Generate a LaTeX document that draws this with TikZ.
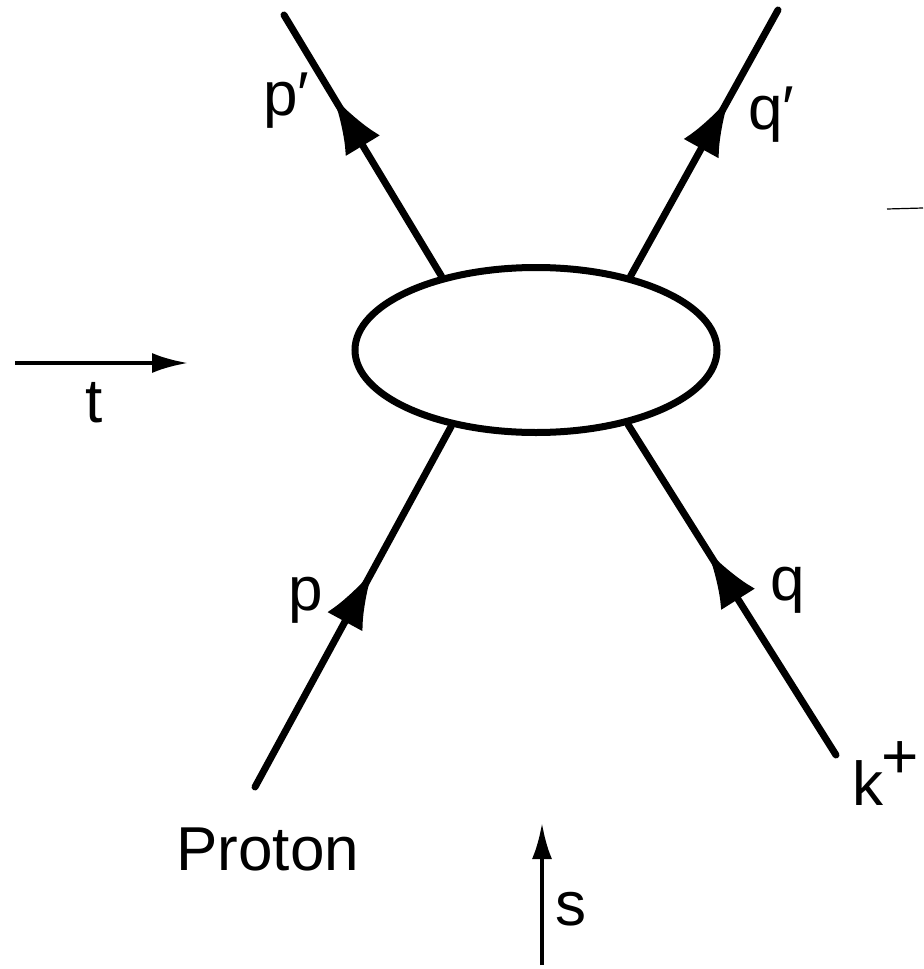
\documentclass[tikz,border=0pt]{standalone}
\usepackage{fontspec}
\setmainfont{Liberation Sans}
\usetikzlibrary{shapes.geometric,arrows.meta,decorations.markings}
\begin{document}
\begin{tikzpicture}[x=0.5pt,y=-0.5pt,
    leg/.style={line width=3.5pt,line cap=round},
    flow/.style={postaction={decorate},decoration={markings,
      mark=at position #1 with {\arrow{Latex[length=29pt,width=20pt]}}}},
    axis/.style={line width=2pt,-{Latex[length=18pt,width=10pt]}},
    lbl/.style={font=\fontsize{31}{36}\selectfont,inner sep=0pt,anchor=base west}]
  \useasboundingbox (0,0) rectangle (923,969);

  % The interaction blob
  \node[ellipse,draw,line width=3.5pt,minimum width=181pt,minimum height=82.5pt,inner sep=0pt] (blob) at (536,350) {};

  % Free ends of the four legs
  \coordinate (pin) at (255,787);
  \coordinate (qin) at (836,755);
  \coordinate (pout) at (284,15);
  \coordinate (qout) at (778,10);

  % Incoming proton and kaon
  \draw[leg,flow=0.6] (pin) -- (blob.222);
  \draw[leg,flow=0.62] (qin) -- (blob.321.7);

  % Outgoing particles
  \draw[leg,flow=0.69] (blob.142.6) -- (pout);
  \draw[leg,flow=0.67] (blob.38.2) -- (qout);

  % Momentum labels
  \node[lbl] (lpout) at (263,115) {p′};
  \node[lbl] (lqout) at (748,129) {q′};
  \node[lbl] (lpin) at (288,610) {p};
  \node[lbl] (lqin) at (770,600) {q};
  \node[lbl] (lkaon) at (852,805) {k\kern-1pt\raisebox{0.42em}{\fontsize{32}{32}\selectfont+}};
  \node[lbl] (lproton) at (176,870) {Proton};

  % Channel arrows
  \coordinate (t0) at (15,363);
  \coordinate (t1) at (188,363);
  \draw[axis] (t0) -- (t1);
  \node[lbl] (lt) at (85,422) {t};

  \coordinate (s0) at (542,965);
  \coordinate (s1) at (542,823);
  \draw[axis] (s0) -- (s1);
  \node[lbl] (ls) at (555,925) {s};

  % Short stroke at the right edge
  \coordinate (d0) at (887,209);
  \coordinate (d1) at (923,208);
  \draw[line width=0.6pt] (d0) -- (d1);
\end{tikzpicture}
\end{document}
